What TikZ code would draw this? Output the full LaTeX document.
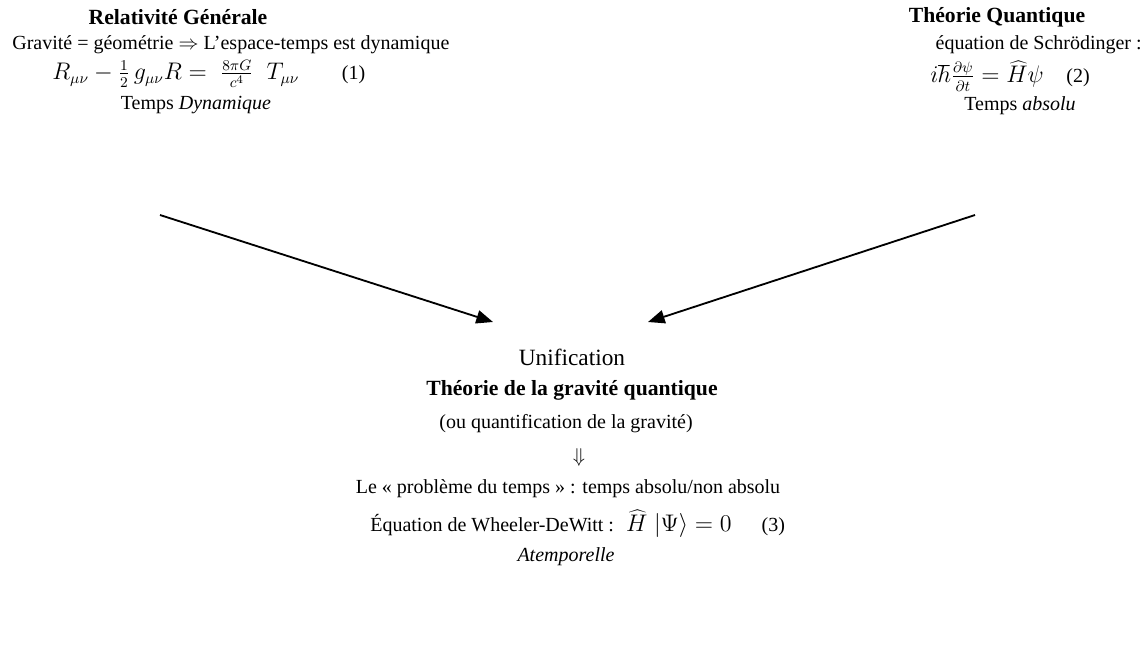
\documentclass[tikz,border=0pt]{standalone}
\usepackage{fontspec}
\setmainfont{Liberation Serif}
\usetikzlibrary{arrows.meta}
\begin{document}
\begin{tikzpicture}[x=.6pt,y=-.6pt,font=\fontsize{12}{14}\selectfont,inner sep=0pt]
\tikzset{ttl/.style={font=\fontsize{13}{15}\selectfont\bfseries},eqn/.style={font=\fontsize{13.5}{16}\selectfont},arr/.style={line width=1.1pt,-{Triangle[length=10pt,width=8pt]}}}
\useasboundingbox(0,0)rectangle(1145,663);
% relativite generale
\node[ttl](rgTitle)at(178,17){Relativité Générale};
\node[anchor=west](rgText)at(12,45){Gravité = géométrie $\Rightarrow$ L’espace-temps est dynamique};
\node[eqn,anchor=west](rgEq)at(52,74){$R_{\mu\nu}-\frac{1}{2}\,g_{\mu\nu}R=\;\frac{8\pi G}{c^4}\;\;T_{\mu\nu}$\hspace{1.9em}{\fontsize{12}{14}\selectfont(1)}};
\node(rgTime)at(196,105){Temps \textit{Dynamique}};
% theorie quantique
\node[ttl](qtTitle)at(997,17){Théorie Quantique};
\node[anchor=east](qtText)at(1142,45){équation de Schrödinger :};
\node[eqn](qtEq)at(1010,76){$i\hbar\frac{\partial\psi}{\partial t}=\widehat{H}\psi$\hspace{1em}{\fontsize{12}{14}\selectfont(2)}};
\node(qtTime)at(1020,106){Temps \textit{absolu}};
% unification
\node[font=\fontsize{14}{16}\selectfont](uni)at(572,357){Unification};
\node[ttl](gqTitle)at(572,390){Théorie de la gravité quantique};
\node(gqAlt)at(566,424){(ou quantification de la gravité)};
\node(imp)at(579,457){$\Downarrow$};
\node(pb)at(568,489){Le «~problème du temps~» : temps absolu/non absolu};
\node[anchor=west](wdw)at(370,524){Équation de Wheeler-DeWitt :\hspace{.6em}{\fontsize{13.5}{16}\selectfont$\widehat{H}\;|\Psi\rangle=0$}\hspace{1.5em}(3)};
\node(atemp)at(566,557){\textit{Atemporelle}};
\coordinate(rgA)at(160,215);\coordinate(rgB)at(493,322);
\coordinate(qtA)at(975,215);\coordinate(qtB)at(648,322);
\draw[arr](rgA)--(rgB);
\draw[arr](qtA)--(qtB);
\end{tikzpicture}
\end{document}
